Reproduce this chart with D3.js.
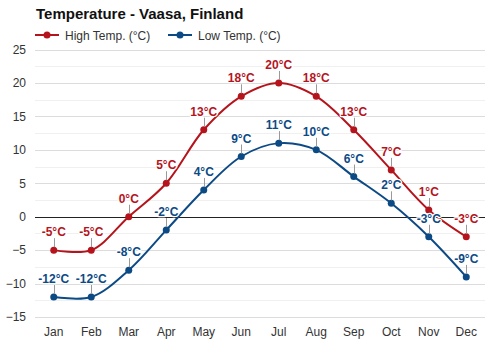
<!DOCTYPE html>
<html>
<head>
<meta charset="utf-8">
<script src="https://cdn.jsdelivr.net/npm/d3@7"></script>
<style>
  html, body { margin: 0; padding: 0; background: #fff; }
  #outer { width: 500px; height: 350px; }
  text { font-family: "Liberation Sans", Arial, sans-serif; }
</style>
</head>
<body>
<div id="outer"></div>
<script>
// ---- data ----
const months = ['Jan', 'Feb', 'Mar', 'Apr', 'May', 'Jun', 'Jul', 'Aug', 'Sep', 'Oct', 'Nov', 'Dec'];
const highTemps = [-5, -5, 0, 5, 13, 18, 20, 18, 13, 7, 1, -3];
const lowTemps = [-12, -12, -8, -2, 4, 9, 11, 10, 6, 2, -3, -9];
const yTicks = [-15, -10, -5, 0, 5, 10, 15, 20, 25];
const seriesNames = ['High Temp. (°C)', 'Low Temp. (°C)'];

const W = 500, H = 350;
const margin = { left: 35, right: 15, top: 49.5, bottom: 33 };
const red = '#b5141c', blue = '#0c4a85';

const svg = d3.select('#outer').append('svg')
  .attr('width', W).attr('height', H);

svg.append('rect').attr('width', W).attr('height', H).attr('fill', '#fff');

const x = d3.scaleBand()
  .domain(months)
  .range([margin.left, W - margin.right]);

const y = d3.scaleLinear()
  .domain([-15, 25])
  .range([H - margin.bottom, margin.top]);

// minor grid (every 2.5)
const minor = d3.range(-12.5, 25, 5);
svg.append('g').selectAll('line').data(minor).join('line')
  .attr('x1', margin.left).attr('x2', W - margin.right)
  .attr('y1', d => Math.round(y(d)) + 0.5).attr('y2', d => Math.round(y(d)) + 0.5)
  .attr('stroke', '#f0f0f0');

// major grid
svg.append('g').selectAll('line').data(yTicks.filter(d => d !== 0)).join('line')
  .attr('x1', margin.left).attr('x2', W - margin.right)
  .attr('y1', d => Math.round(y(d)) + 0.5).attr('y2', d => Math.round(y(d)) + 0.5)
  .attr('stroke', '#dcdcdc');

// zero line
svg.append('line')
  .attr('x1', margin.left).attr('x2', W - margin.right)
  .attr('y1', Math.round(y(0)) + 0.5).attr('y2', Math.round(y(0)) + 0.5)
  .attr('stroke', '#222');

// y axis
const yAxis = svg.append('g')
  .attr('transform', `translate(${margin.left - 9},0)`)
  .call(d3.axisLeft(y).tickValues(yTicks).tickSize(0).tickPadding(0));
yAxis.select('.domain').remove();
yAxis.selectAll('text')
  .attr('fill', '#333').style('font-size', '12px')
  .style('font-family', '"Liberation Sans", Arial, sans-serif');

// x axis
const xAxis = svg.append('g')
  .attr('transform', `translate(0,${H - margin.bottom})`)
  .call(d3.axisBottom(x).tickSize(0).tickPadding(10));
xAxis.select('.domain').remove();
xAxis.selectAll('text')
  .attr('fill', '#333').style('font-size', '12px')
  .style('font-family', '"Liberation Sans", Arial, sans-serif');

const cx = d => x(d) + x.bandwidth() / 2;

const line = d3.line()
  .x((d, i) => cx(months[i]))
  .y(d => y(d))
  .curve(d3.curveCatmullRom.alpha(0.5));

function drawSeries(values, color) {
  const g = svg.append('g');
  g.append('path')
    .attr('d', line(values))
    .attr('fill', 'none')
    .attr('stroke', color)
    .attr('stroke-width', 2);
  g.selectAll('circle').data(values).join('circle')
    .attr('cx', (d, i) => cx(months[i]))
    .attr('cy', d => y(d))
    .attr('r', 3.5)
    .attr('fill', color);
}

function drawLabels(values, color) {
  const g = svg.append('g');
  g.selectAll('line').data(values).join('line')
    .attr('x1', (d, i) => Math.round(cx(months[i])) + 0.5)
    .attr('x2', (d, i) => Math.round(cx(months[i])) + 0.5)
    .attr('y1', d => y(d) - 3)
    .attr('y2', d => y(d) - 12)
    .attr('stroke', '#999');
  g.selectAll('text').data(values).join('text')
    .attr('x', (d, i) => cx(months[i]))
    .attr('y', d => y(d) - 14)
    .attr('text-anchor', 'middle')
    .attr('fill', color)
    .attr('stroke', '#fff')
    .attr('stroke-width', 2.5)
    .attr('stroke-linejoin', 'round')
    .attr('paint-order', 'stroke')
    .style('font-size', '12px')
    .style('font-weight', 'bold')
    .text(d => d + '°C');
}

drawSeries(highTemps, red);
drawSeries(lowTemps, blue);
drawLabels(highTemps, red);
drawLabels(lowTemps, blue);

// title
svg.append('text')
  .attr('x', 36).attr('y', 19)
  .style('font-size', '15px').style('font-weight', 'bold')
  .attr('fill', '#111')
  .text('Temperature - Vaasa, Finland');

// legend
const legendX = [35, 168];
const legend = svg.append('g');
[red, blue].forEach((c, i) => {
  const lg = legend.append('g').attr('transform', `translate(${legendX[i]},35)`);
  lg.append('line').attr('x1', 0).attr('x2', 24).attr('y1', 0).attr('y2', 0)
    .attr('stroke', c).attr('stroke-width', 2);
  lg.append('circle').attr('cx', 12).attr('cy', 0).attr('r', 3.5).attr('fill', c);
  lg.append('text').attr('x', 30).attr('y', 4.5)
    .style('font-size', '12px').attr('fill', '#333')
    .text(seriesNames[i]);
});
</script>
</body>
</html>
